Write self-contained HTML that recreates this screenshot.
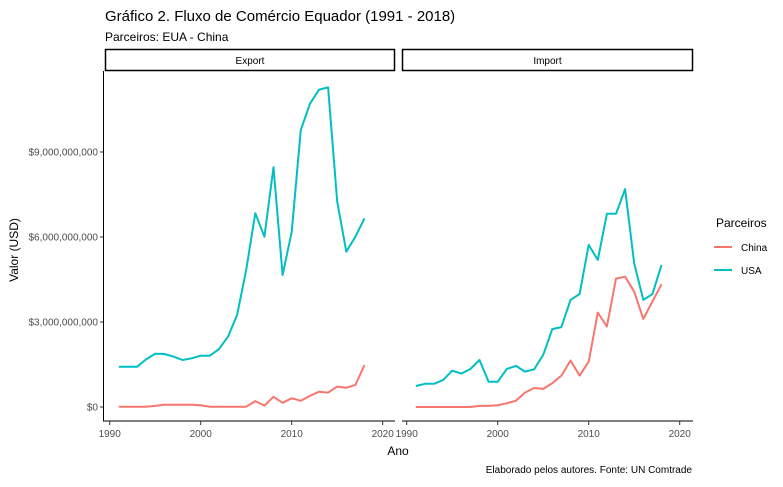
<!DOCTYPE html>
<html><head><meta charset="utf-8"><style>
body{margin:0;background:#fff;font-family:"Liberation Sans",sans-serif}
</style></head><body>
<svg id="chart" width="783" height="482" xmlns="http://www.w3.org/2000/svg" font-family="Liberation Sans, sans-serif">
<text x="105" y="21" font-size="15" fill="#000">Gráfico 2. Fluxo de Comércio Equador (1991 - 2018)</text>
<text x="105" y="41" font-size="12" fill="#000">Parceiros: EUA - China</text>
<line x1="103.5" x2="103.5" y1="71" y2="421.5" stroke="#000" stroke-width="1"/>
<g id="panels"></g>
<text x="398" y="455" font-size="12" text-anchor="middle">Ano</text>
<text transform="translate(18,250) rotate(-90)" font-size="12" text-anchor="middle">Valor (USD)</text>
<text x="692" y="473" font-size="10" text-anchor="end">Elaborado pelos autores. Fonte: UN Comtrade</text>
<g>
<text x="716" y="227" font-size="12">Parceiros</text>
<line x1="714" x2="732" y1="247" y2="247" stroke="#F8766D" stroke-width="2"/>
<text x="741" y="251" font-size="10">China</text>
<line x1="714" x2="732" y1="270" y2="270" stroke="#00BFC4" stroke-width="2"/>
<text x="741" y="274" font-size="10">USA</text>
</g>
</svg>
<script>
const years=[1991,1992,1993,1994,1995,1996,1997,1998,1999,2000,2001,2002,2003,2004,2005,2006,2007,2008,2009,2010,2011,2012,2013,2014,2015,2016,2017,2018];
const exportUSA=[1.42,1.42,1.42,1.68,1.88,1.87,1.78,1.66,1.72,1.81,1.81,2.04,2.48,3.25,4.84,6.84,6.01,8.46,4.66,6.18,9.78,10.7,11.2,11.28,7.25,5.48,6.01,6.66];
const exportChina=[0.01,0.01,0.01,0.01,0.04,0.08,0.08,0.08,0.08,0.06,0.01,0.01,0.01,0.01,0.01,0.21,0.05,0.36,0.15,0.31,0.22,0.39,0.54,0.51,0.72,0.68,0.78,1.48];
const importUSA=[0.74,0.82,0.82,0.95,1.28,1.18,1.34,1.66,0.89,0.89,1.34,1.45,1.25,1.33,1.84,2.75,2.82,3.78,3.99,5.72,5.19,6.82,6.82,7.69,5.07,3.78,3.98,5.01];
const importChina=[0,0,0,0,0,0,0,0.04,0.04,0.06,0.13,0.22,0.51,0.67,0.64,0.84,1.11,1.64,1.11,1.6,3.33,2.84,4.53,4.6,4.07,3.11,3.72,4.33];
const yTicks=[0,3,6,9];
const yTickLabels=["$0","$3,000,000,000","$6,000,000,000","$9,000,000,000"];
const xTicks=[1990,2000,2010,2020];
const NS="http://www.w3.org/2000/svg";
const g=document.getElementById('panels');
function yS(v){return 407-v*85/3;}
function mk(t,a){const e=document.createElementNS(NS,t);for(const k in a)e.setAttribute(k,a[k]);return e;}
const panels=[{name:'export',label:'Export',x0:105,x1:395,ax0:103,o:109.7,usa:exportUSA,china:exportChina},
{name:'import',label:'Import',x0:402,x1:693,ax0:402,o:406.7,usa:importUSA,china:importChina}];
panels.forEach(p=>{
  const xS=yr=>p.o+(yr-1990)*9.1;
  const strip=mk('rect',{x:p.x0+0.5,y:49.5,width:p.x1-p.x0-1,height:21,fill:'#fff',stroke:'#000','stroke-width':1.5});
  
  
  g.appendChild(strip);
  const st=mk('text',{x:(p.x0+p.x1)/2,y:64,'font-size':10,'text-anchor':'middle'});st.textContent=p.label;
  
  
  g.appendChild(st);
  const ax=mk('line',{x1:p.ax0,x2:p.x1,y1:421,y2:421,stroke:'#000','stroke-width':1});
  
  
  g.appendChild(ax);
  xTicks.forEach(t=>{
    const x=xS(t);
    const tk=mk('line',{x1:x,x2:x,y1:421,y2:425,stroke:'#333'});
    
    
    g.appendChild(tk);
    const tl=mk('text',{x:x,y:437,'font-size':10,fill:'#4d4d4d','text-anchor':'middle'});tl.textContent=t;
    
    
    g.appendChild(tl);
  });
  [['china',p.china,'#F8766D'],['usa',p.usa,'#00BFC4']].forEach(([n,arr,c])=>{
    const pts=years.map((yr,i)=>xS(yr).toFixed(1)+','+yS(arr[i]).toFixed(1)).join(' ');
    const pl=mk('polyline',{points:pts,fill:'none',stroke:c,'stroke-width':2,'stroke-linejoin':'round'});
    
    
    g.appendChild(pl);
  });
});
yTicks.forEach((t,i)=>{
  const y=yS(t);
  const tk=mk('line',{x1:100,x2:103,y1:y,y2:y,stroke:'#333'});
  
  
  g.appendChild(tk);
  const tl=mk('text',{x:98,y:y+3.5,'font-size':10,fill:'#4d4d4d','text-anchor':'end'});tl.textContent=yTickLabels[i];
  
  
  g.appendChild(tl);
});
</script>
</body></html>
